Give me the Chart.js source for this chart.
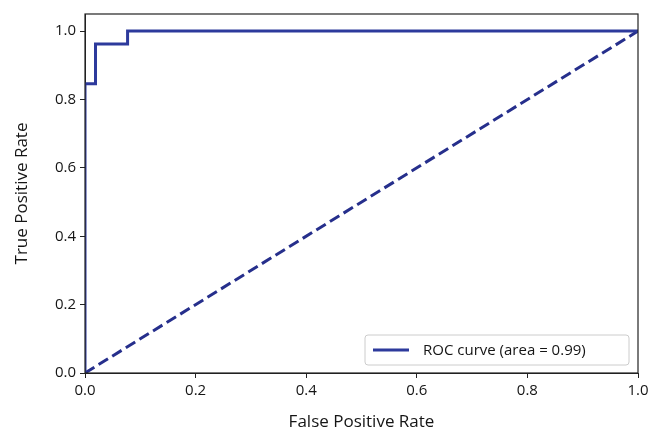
<!DOCTYPE html>
<html>
<head>
<meta charset="utf-8">
<script src="https://cdn.jsdelivr.net/npm/chart.js@4.4.0/dist/chart.umd.min.js"></script>
<style>
    html, body { margin: 0; padding: 0; background: #fff; }
    #wrap { width: 648px; height: 432px; }
</style>
</head>
<body>
<div id="wrap"><canvas id="rocChart" width="648" height="432"></canvas></div>
<script>
// ROC data
const fprValues = [0, 0, 0.019, 0.019, 0.077, 0.077, 1];
const tprValues = [0, 0.846, 0.846, 0.962, 0.962, 1, 1];
const chanceX = [0, 1];
const chanceY = [0, 1];
const tickValues = [0, 0.2, 0.4, 0.6, 0.8, 1.0];
const rocLabel = 'ROC curve (area = 0.99)';

const fontFamily = '"Open Sans", "Noto Sans", sans-serif';
const textColor = '#151515';

// Frame and legend box, drawn like matplotlib
const framePlugin = {
    id: 'frame',
    afterDraw(chart) {
        const { ctx, chartArea: a } = chart;
        ctx.save();
        ctx.strokeStyle = '#222';
        ctx.lineWidth = 1.2;
        ctx.strokeRect(a.left, a.top, a.right - a.left, a.bottom - a.top);

        // legend in lower right
        const w = 264, h = 30;
        const x = a.right - w - 9, y = a.bottom - h - 8;
        ctx.fillStyle = 'rgba(255,255,255,0.85)';
        ctx.strokeStyle = '#ccc';
        ctx.lineWidth = 1;
        ctx.beginPath();
        ctx.roundRect(x, y, w, h, 3);
        ctx.fill();
        ctx.stroke();
        ctx.strokeStyle = '#2d3a9c';
        ctx.lineWidth = 2.8;
        ctx.beginPath();
        ctx.moveTo(x + 8, y + h / 2);
        ctx.lineTo(x + 44, y + h / 2);
        ctx.stroke();
        ctx.fillStyle = textColor;
        ctx.font = '15px ' + fontFamily;
        ctx.textBaseline = 'middle';
        ctx.fillText(chart.data.datasets[0].label, x + 58, y + h / 2 + 1);
        ctx.restore();
    }
};

const ctx = document.getElementById('rocChart').getContext('2d');
const rocChart = new Chart(ctx, {
    type: 'scatter',
    data: {
        datasets: [
            {
                label: rocLabel,
                data: fprValues.map((x, i) => ({ x: x, y: tprValues[i] })),
                showLine: true,
                borderColor: '#2d3a9c',
                borderWidth: 3,
                pointRadius: 0,
                tension: 0,
                fill: false
            },
            {
                label: 'chance',
                data: chanceX.map((x, i) => ({ x: x, y: chanceY[i] })),
                showLine: true,
                borderColor: '#262f8c',
                borderWidth: 3,
                borderDash: [11, 5],
                pointRadius: 0,
                fill: false
            }
        ]
    },
    options: {
        responsive: false,
        animation: false,
        layout: { padding: { top: 14, right: 10, left: 8, bottom: 0 } },
        plugins: {
            legend: { display: false },
            tooltip: { enabled: false }
        },
        scales: {
            x: {
                type: 'linear',
                min: 0,
                max: 1,
                afterBuildTicks: s => { s.ticks = tickValues.map(v => ({ value: v })); },
                afterFit: s => { s.height = 59; s.paddingRight = 0; s.paddingLeft = 0; },
                grid: { drawOnChartArea: false, drawTicks: true, tickLength: 5, color: '#222' },
                border: { color: '#222' },
                ticks: {
                    color: textColor,
                    font: { family: fontFamily, size: 15 },
                    padding: 4,
                    maxRotation: 0,
                    callback: v => v.toFixed(1)
                },
                title: {
                    display: true,
                    text: 'False Positive Rate',
                    color: textColor,
                    font: { family: fontFamily, size: 17 },
                    padding: { top: 4, bottom: 0 }
                }
            },
            y: {
                type: 'linear',
                min: 0,
                max: 1.05,
                afterBuildTicks: s => { s.ticks = tickValues.map(v => ({ value: v })); },
                afterFit: s => { s.width = 77; s.paddingTop = 0; s.paddingBottom = 0; },
                grid: { drawOnChartArea: false, drawTicks: true, tickLength: 5, color: '#222' },
                border: { color: '#222' },
                ticks: {
                    color: textColor,
                    font: { family: fontFamily, size: 15 },
                    padding: 4,
                    callback: v => v.toFixed(1)
                },
                title: {
                    display: true,
                    text: 'True Positive Rate',
                    color: textColor,
                    font: { family: fontFamily, size: 17 },
                    padding: { bottom: 6 }
                }
            }
        }
    },
    plugins: [framePlugin]
});
</script>
</body>
</html>
